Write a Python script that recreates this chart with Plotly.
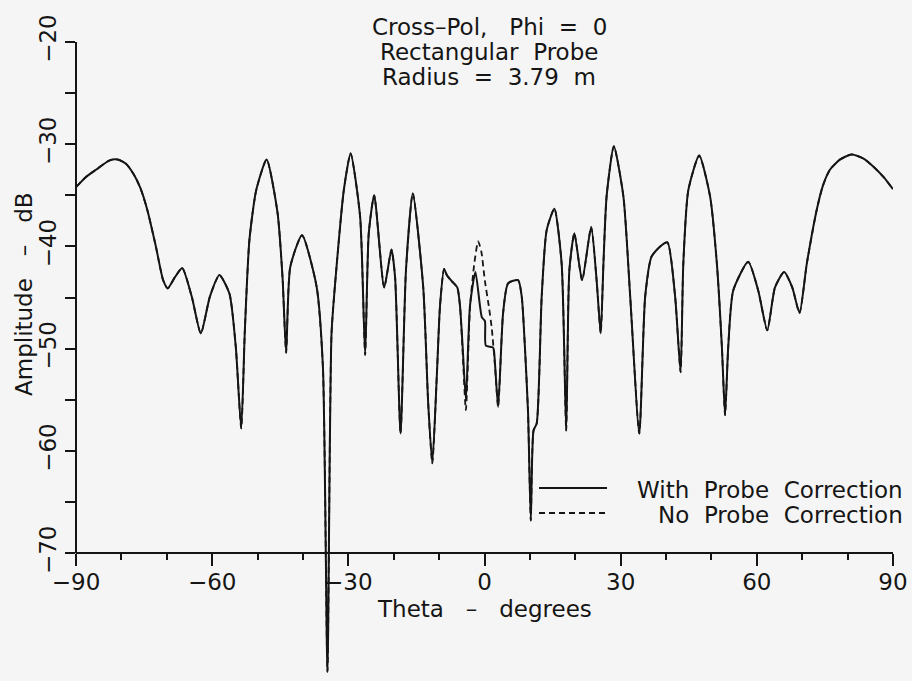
import plotly.graph_objects as go

# ---- data ----
theta_with = [-90, -87.8, -85.6, -82.7, -80.8, -79.0, -77.2, -75.8, -74.3, -72.4, -70.8, -69.8, -68.2, -66.6,
              -64.5, -62.5, -60.5, -58.4, -56.2, -54.8, -53.6, -52.8, -51.8, -50.3,
              -48.0, -45.6, -44.5, -43.7, -42.8, -40.2, -37.0, -35.6, -34.6, -33.7,
              -32.6, -31.0, -29.5, -27.4, -26.3, -25.5, -24.3, -22.1, -20.5, -19.7,
              -18.5, -17.3, -15.8, -13.5, -12.4, -11.5, -10.5, -9.8, -8.9, -8.3,
              -7.2, -6.0, -5.4, -4.8, -4.1, -3.2, -2.0, -0.6, 0.1, 0.3, 1.9,
              2.3, 3.0, 4.1, 5.2, 7.4, 8.2, 8.9, 9.6, 10.2, 10.8,
              11.5, 12.6, 13.7, 15.4, 17.0, 18.0, 18.7, 19.8, 21.5, 23.5,
              24.7, 25.6, 26.2, 26.9, 28.5, 30.6, 32.1, 34.1, 35.4, 36.8,
              38.7, 40.3, 42.0, 43.2, 43.8, 44.9, 47.3, 49.7, 51.2, 52.3,
              53.0, 53.7, 54.8, 58.1, 60.3, 62.3, 64.0, 66.0, 67.8, 69.4,
              71.0, 73.2, 74.6, 76.1, 78.3, 80.9, 83.5, 85.7, 87.9, 90]
db_with = [-34.2, -33.2, -32.5, -31.6, -31.5, -31.9, -33.0, -34.3, -36.4, -40.0, -43.3, -44.1, -43.0, -42.1,
           -44.9, -48.5, -44.9, -42.8, -44.6, -49.8, -57.8, -48.2, -39.4, -34.5,
           -31.5, -36.7, -43.0, -50.4, -42.0, -38.9, -43.9, -51.8, -81.6, -48.5,
           -42.0, -34.5, -30.9, -37.1, -50.6, -38.7, -35.0, -44.0, -40.3, -43.0,
           -58.3, -42.3, -34.8, -44.0, -55.4, -61.2, -52.6, -45.8, -42.2, -42.8,
           -43.4, -44.0, -45.8, -49.9, -55.0, -45.8, -42.5, -46.9, -47.3, -49.7, -49.9,
           -51.4, -55.7, -46.5, -43.6, -43.3, -44.9, -49.8, -56.3, -66.8, -58.0,
           -57.3, -44.9, -38.4, -36.3, -41.7, -58.0, -42.3, -38.7, -43.3, -38.1,
           -43.3, -48.5, -41.7, -35.1, -30.2, -35.1, -44.9, -58.3, -44.9, -41.0,
           -40.0, -39.6, -44.9, -52.3, -41.7, -34.5, -31.1, -35.1, -41.7, -49.8,
           -56.5, -49.8, -44.3, -41.5, -44.3, -48.2, -44.0, -42.5, -44.0, -46.5,
           -41.7, -36.4, -34.0, -32.5, -31.5, -31.0, -31.4, -32.2, -33.2, -34.4]

# No-probe-correction curve: coincides with the corrected one except near boresight
theta_no_center = [-4.8, -4.1, -3.2, -2.2, -1.4, -0.7, 0.1, 1.0, 1.6, 2.3, 3.0]
db_no_center = [-50.5, -56.0, -46.0, -41.5, -39.5, -40.5, -43.4, -46.0, -48.0, -51.6, -55.7]

x_major = [-90, -60, -30, 0, 30, 60, 90]
x_minor = [-80, -70, -50, -40, -20, -10, 10, 20, 40, 50, 70, 80]
y_major = [-70, -60, -50, -40, -30, -20]
y_minor = [-65, -55, -45, -35, -25]

title_lines = ["Cross\u2013Pol,   Phi  =  0", "Rectangular  Probe", "Radius  =  3.79  m"]
legend_labels = ["With  Probe  Correction", "No  Probe  Correction"]
x_title = "Theta   \u2013   degrees"
y_title = "Amplitude   \u2013   dB"

# ---- build the no-correction series ----
theta_no = [t for t in theta_with if t < theta_no_center[0]] + theta_no_center + \
           [t for t in theta_with if t > theta_no_center[-1]]
db_no = [d for t, d in zip(theta_with, db_with) if t < theta_no_center[0]] + db_no_center + \
        [d for t, d in zip(theta_with, db_with) if t > theta_no_center[-1]]

INK = "#151515"
FONT = dict(family="DejaVu Sans", size=23, color=INK)
DASH = "6px,4px"

fig = go.Figure()
fig.add_trace(go.Scatter(x=theta_with, y=db_with, mode="lines", name=legend_labels[0],
                         line=dict(color=INK, width=2, shape="spline", smoothing=0.6),
                         showlegend=False))
fig.add_trace(go.Scatter(x=theta_no, y=db_no, mode="lines", name=legend_labels[1],
                         line=dict(color=INK, width=1.8, dash=DASH, shape="spline", smoothing=0.6),
                         showlegend=False))

Y0, Y1 = -82.5, -20.0
xpos = (y_major[0] - Y0) / (Y1 - Y0)

fig.update_layout(
    width=912, height=681,
    margin=dict(l=76, r=19, t=42, b=0),
    paper_bgcolor="#f5f5f5", plot_bgcolor="#f5f5f5",
    font=FONT,
    xaxis=dict(range=[-90, 90], anchor="free", position=xpos,
               showline=True, linecolor=INK, linewidth=2,
               ticks="outside", ticklen=12, tickwidth=2, tickcolor=INK,
               tickmode="array", tickvals=x_major, ticklabelstandoff=-4,
               minor=dict(tickmode="array", tickvals=x_minor, ticks="outside",
                          ticklen=6, tickwidth=2, tickcolor=INK),
               showgrid=False, zeroline=False, tickfont=FONT),
    yaxis=dict(range=[Y0, Y1], showline=False,
               ticks="outside", ticklen=10, tickwidth=2, tickcolor=INK,
               tickmode="array", tickvals=y_major, tickangle=-90,
               minor=dict(tickmode="array", tickvals=y_minor, ticks="outside",
                          ticklen=10, tickwidth=2, tickcolor=INK),
               showgrid=False, zeroline=False, tickfont=FONT),
)

# y-axis line spanning only the labelled range
fig.add_shape(type="line", xref="paper", yref="y", x0=0, x1=0, y0=y_major[0], y1=y_major[-1],
              line=dict(color=INK, width=2))

H = 681 - 42  # plot height in px
def ypap(py):
    return (681 - py) / H
def xpap(px):
    return (px - 76) / 817

# title lines
for txt, py in zip(title_lines, [27, 52, 77]):
    fig.add_annotation(text=txt, xref="paper", yref="paper", x=xpap(489), y=ypap(py),
                       showarrow=False, xanchor="center", yanchor="middle", font=FONT)

# axis titles
fig.add_annotation(text=x_title, xref="x", yref="paper", x=0, y=ypap(609),
                   showarrow=False, xanchor="center", yanchor="middle", font=FONT)
fig.add_annotation(text=y_title, xref="paper", yref="paper", x=xpap(24), y=ypap(294),
                   showarrow=False, xanchor="center", yanchor="middle", textangle=-90, font=FONT)

# legend
for lab, py, dash in zip(legend_labels, [488, 513], ["solid", DASH]):
    fig.add_shape(type="line", xref="paper", yref="paper", x0=xpap(539), x1=xpap(607),
                  y0=ypap(py), y1=ypap(py), line=dict(color=INK, width=2, dash=dash))
    fig.add_annotation(text=lab, xref="paper", yref="paper", x=xpap(905), y=ypap(py + 2),
                       showarrow=False, xanchor="right", yanchor="middle", font=FONT)

fig.write_html("out.html")
